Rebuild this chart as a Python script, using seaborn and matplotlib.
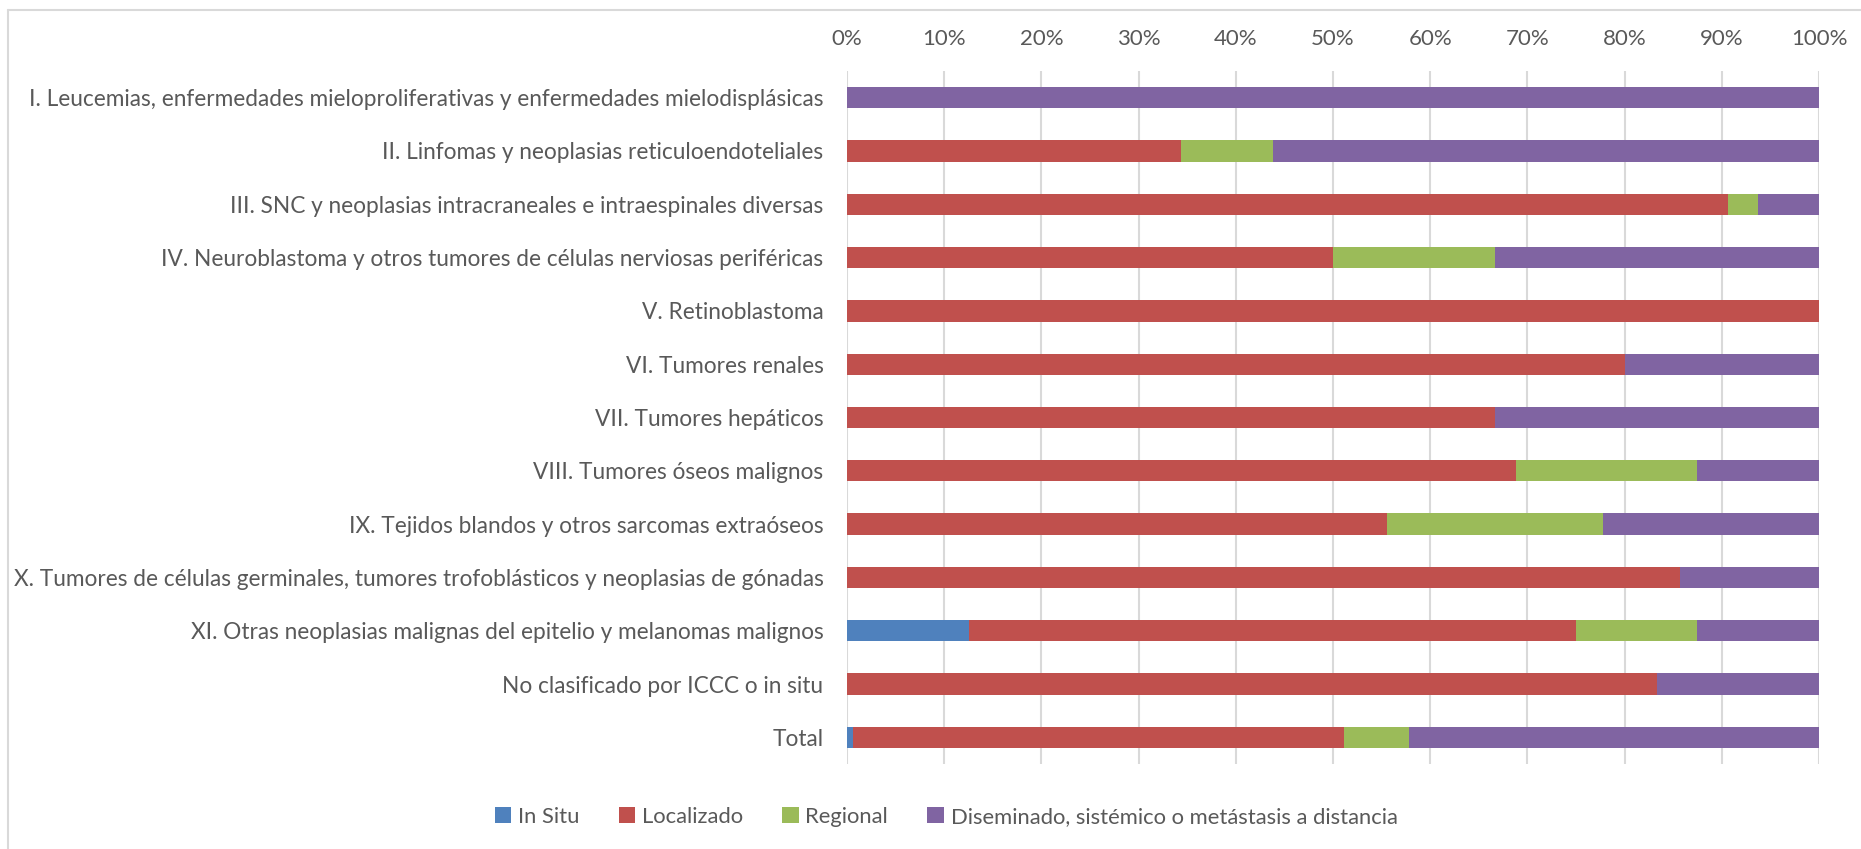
import matplotlib
matplotlib.use("Agg")
import matplotlib.pyplot as plt
from matplotlib.lines import Line2D
from matplotlib.patches import Patch
from matplotlib.ticker import PercentFormatter
import numpy as np
import pandas as pd
import seaborn as sns

categories = [
    "I. Leucemias, enfermedades mieloproliferativas y enfermedades mielodisplásicas",
    "II. Linfomas y neoplasias reticuloendoteliales",
    "III. SNC y neoplasias intracraneales e intraespinales diversas",
    "IV. Neuroblastoma y otros tumores de células nerviosas periféricas",
    "V. Retinoblastoma",
    "VI. Tumores renales",
    "VII. Tumores hepáticos",
    "VIII. Tumores óseos malignos",
    "IX. Tejidos blandos y otros sarcomas extraóseos",
    "X. Tumores de células germinales, tumores trofoblásticos y neoplasias de gónadas",
    "XI. Otras neoplasias malignas del epitelio y melanomas malignos",
    "No clasificado por ICCC o in situ",
    "Total",
]

series_names = ["In Situ", "Localizado", "Regional",
                "Diseminado, sistémico o metástasis a distancia"]

in_situ = [0, 0, 0, 0, 0, 0, 0, 0, 0, 0, 12.5, 0, 0.6]
localizado = [0, 34.4, 90.6, 50.0, 100, 80.0, 66.7, 68.8, 55.6, 85.7, 62.5, 83.3, 50.5]
regional = [0, 9.4, 3.1, 16.7, 0, 0, 0, 18.7, 22.2, 0, 12.5, 0, 6.7]
diseminado = [100, 56.2, 6.3, 33.3, 0, 20.0, 33.3, 12.5, 22.2, 14.3, 12.5, 16.7, 42.2]

colors = ["#4F81BD", "#C0504D", "#9BBB59", "#8064A2"]
text_color = "#595959"
grid_color = "#D9D9D9"

sns.set_theme(style="white")
plt.rcParams["font.family"] = ["Lato", "DejaVu Sans"]

df = pd.DataFrame({
    "categoria": categories,
    series_names[0]: in_situ,
    series_names[1]: localizado,
    series_names[2]: regional,
    series_names[3]: diseminado,
})

# cumulative right edges of each stacked segment
cum = df[series_names].cumsum(axis=1)

fig = plt.figure(figsize=(18.61, 8.49), dpi=100)
ax = fig.add_axes([847 / 1861, 1 - 764 / 849, (1819 - 847) / 1861, (764 - 71) / 849])

# draw from the rightmost cumulative edge back to the first series
for name, col in reversed(list(zip(series_names, colors))):
    sns.barplot(x=cum[name], y=df["categoria"], color=col, orient="h",
                width=0.4, ax=ax, saturation=1, edgecolor="none", linewidth=0)

ax.set_xlim(0, 100)
ax.set_ylim(len(categories) - 0.5, -0.5)
ax.set_xticks(np.arange(0, 101, 10))
ax.xaxis.set_major_formatter(PercentFormatter(100, decimals=0))
ax.xaxis.tick_top()
ax.set_xlabel("")
ax.set_ylabel("")
ax.grid(axis="x", color=grid_color, linewidth=1.5)
ax.set_axisbelow(True)
for s in ax.spines.values():
    s.set_visible(False)
ax.tick_params(axis="x", length=0, pad=16, labelsize=16, colors=text_color)
ax.tick_params(axis="y", length=0, pad=17, labelsize=16.3, colors=text_color)

handles = [Patch(facecolor=c, edgecolor="none") for c in colors]
fig.legend(handles, series_names, loc="center", bbox_to_anchor=(946 / 1861, 1 - 817 / 849),
           ncol=4, frameon=False, fontsize=15.8, labelcolor=text_color,
           handlelength=0.75, handleheight=0.75, handletextpad=0.3, columnspacing=1.8)

# chart area border
fig.add_artist(Line2D([8 / 1861, 1], [1 - 10 / 849, 1 - 10 / 849],
                      transform=fig.transFigure, color=grid_color, linewidth=1.5))
fig.add_artist(Line2D([8 / 1861, 8 / 1861], [0, 1 - 10 / 849],
                      transform=fig.transFigure, color=grid_color, linewidth=1.5))

fig.savefig("out.png", dpi=100, facecolor="white")
